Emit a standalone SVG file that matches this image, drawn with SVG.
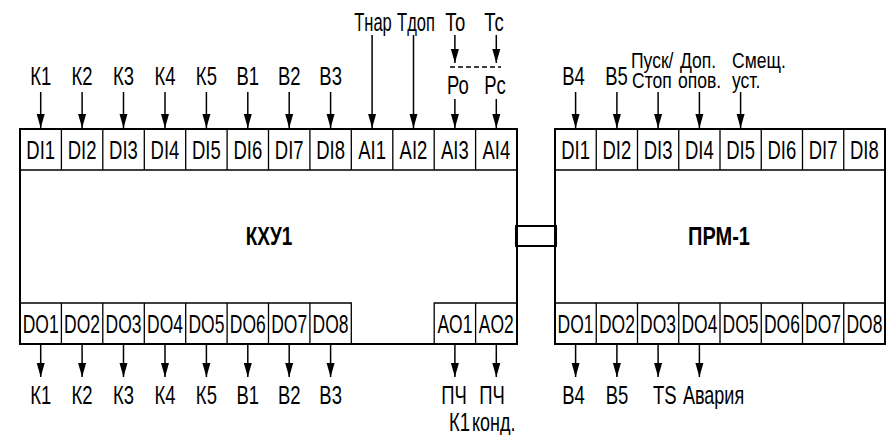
<svg xmlns="http://www.w3.org/2000/svg" width="892" height="435" viewBox="0 0 892 435">
<style>
text{font-family:"Liberation Sans",Arial,sans-serif;font-size:25px;fill:#000}
.m{text-anchor:middle}
.b{font-weight:bold}
.s{font-size:22.5px}
.box{fill:#fff;stroke:#000;stroke-width:2}
.cell{fill:none;stroke:#000;stroke-width:1.3}
.ar{stroke:#000;stroke-width:1.5;fill:none;marker-end:url(#ah)}
.dash{stroke:#000;stroke-width:1.5;stroke-dasharray:5 3}
.link{fill:none;stroke:#000;stroke-width:2}
</style>
<defs>
<marker id="ah" markerUnits="userSpaceOnUse" markerWidth="14" markerHeight="10" viewBox="0 0 14 10" refX="14" refY="5" orient="auto">
<path d="M0,1 L14,5 L0,9 Z" fill="#000"/>
</marker>
</defs>
<rect width="892" height="435" fill="#fff"/>

<g id="kxu1">
<rect class="box" x="20" y="129" width="497" height="215"/>
<path class="cell" d="M20,170H517 M61.4,129V170 M102.8,129V170 M144.3,129V170 M185.7,129V170 M227.1,129V170 M268.5,129V170 M309.9,129V170 M351.3,129V170 M392.8,129V170 M434.2,129V170 M475.6,129V170"/>
<path class="cell" d="M20,303H351.3V344 M61.4,303V344 M102.8,303V344 M144.3,303V344 M185.7,303V344 M227.1,303V344 M268.5,303V344 M309.9,303V344 M434.2,344V303H517 M475.6,303V344"/>
<text class="m" transform="translate(40.7,158.5) scale(0.74,1)">DI1</text>
<text class="m" transform="translate(82.1,158.5) scale(0.74,1)">DI2</text>
<text class="m" transform="translate(123.5,158.5) scale(0.74,1)">DI3</text>
<text class="m" transform="translate(165,158.5) scale(0.74,1)">DI4</text>
<text class="m" transform="translate(206.4,158.5) scale(0.74,1)">DI5</text>
<text class="m" transform="translate(247.8,158.5) scale(0.74,1)">DI6</text>
<text class="m" transform="translate(289.2,158.5) scale(0.74,1)">DI7</text>
<text class="m" transform="translate(330.6,158.5) scale(0.74,1)">DI8</text>
<text class="m" transform="translate(372.1,158.5) scale(0.74,1)">AI1</text>
<text class="m" transform="translate(413.5,158.5) scale(0.74,1)">AI2</text>
<text class="m" transform="translate(454.9,158.5) scale(0.74,1)">AI3</text>
<text class="m" transform="translate(496.3,158.5) scale(0.74,1)">AI4</text>
<text class="m" transform="translate(40.7,332.5) scale(0.7,1)">DO1</text>
<text class="m" transform="translate(82.1,332.5) scale(0.7,1)">DO2</text>
<text class="m" transform="translate(123.5,332.5) scale(0.7,1)">DO3</text>
<text class="m" transform="translate(165,332.5) scale(0.7,1)">DO4</text>
<text class="m" transform="translate(206.4,332.5) scale(0.7,1)">DO5</text>
<text class="m" transform="translate(247.8,332.5) scale(0.7,1)">DO6</text>
<text class="m" transform="translate(289.2,332.5) scale(0.7,1)">DO7</text>
<text class="m" transform="translate(330.6,332.5) scale(0.7,1)">DO8</text>
<text class="m" transform="translate(454.9,332.5) scale(0.7,1)">AO1</text>
<text class="m" transform="translate(496.3,332.5) scale(0.7,1)">AO2</text>
<text class="m b" transform="translate(269,245) scale(0.76,1)">КХУ1</text>
</g>

<g id="prm1">
<rect class="box" x="555" y="129" width="330" height="215"/>
<path class="cell" d="M555,170H885 M596.25,129V170 M637.5,129V170 M678.75,129V170 M720,129V170 M761.25,129V170 M802.5,129V170 M843.75,129V170"/>
<path class="cell" d="M555,303H885 M596.25,303V344 M637.5,303V344 M678.75,303V344 M720,303V344 M761.25,303V344 M802.5,303V344 M843.75,303V344"/>
<text class="m" transform="translate(575.6,158.5) scale(0.74,1)">DI1</text>
<text class="m" transform="translate(616.9,158.5) scale(0.74,1)">DI2</text>
<text class="m" transform="translate(658.1,158.5) scale(0.74,1)">DI3</text>
<text class="m" transform="translate(699.4,158.5) scale(0.74,1)">DI4</text>
<text class="m" transform="translate(740.6,158.5) scale(0.74,1)">DI5</text>
<text class="m" transform="translate(781.9,158.5) scale(0.74,1)">DI6</text>
<text class="m" transform="translate(823.1,158.5) scale(0.74,1)">DI7</text>
<text class="m" transform="translate(864.4,158.5) scale(0.74,1)">DI8</text>
<text class="m" transform="translate(575.6,332.5) scale(0.7,1)">DO1</text>
<text class="m" transform="translate(616.9,332.5) scale(0.7,1)">DO2</text>
<text class="m" transform="translate(658.1,332.5) scale(0.7,1)">DO3</text>
<text class="m" transform="translate(699.4,332.5) scale(0.7,1)">DO4</text>
<text class="m" transform="translate(740.6,332.5) scale(0.7,1)">DO5</text>
<text class="m" transform="translate(781.9,332.5) scale(0.7,1)">DO6</text>
<text class="m" transform="translate(823.1,332.5) scale(0.7,1)">DO7</text>
<text class="m" transform="translate(864.4,332.5) scale(0.7,1)">DO8</text>
<text class="m b" transform="translate(719,245) scale(0.8,1)">ПРМ-1</text>
</g>

<g id="labels">
<text class="m" transform="translate(40.7,85) scale(0.74,1)">К1</text>
<text class="m" transform="translate(82.1,85) scale(0.74,1)">К2</text>
<text class="m" transform="translate(123.5,85) scale(0.74,1)">К3</text>
<text class="m" transform="translate(165,85) scale(0.74,1)">К4</text>
<text class="m" transform="translate(206.4,85) scale(0.74,1)">К5</text>
<text class="m" transform="translate(247.8,85) scale(0.74,1)">В1</text>
<text class="m" transform="translate(289.2,85) scale(0.74,1)">В2</text>
<text class="m" transform="translate(330.6,85) scale(0.74,1)">В3</text>
<text class="m" transform="translate(373,31) scale(0.66,1)">Тнар</text>
<text class="m" transform="translate(416,31) scale(0.66,1)">Тдоп</text>
<text class="m" transform="translate(455.3,31) scale(0.74,1)">То</text>
<text class="m" transform="translate(494,31) scale(0.74,1)">Тс</text>
<text class="m" transform="translate(458,94) scale(0.74,1)">Ро</text>
<text class="m" transform="translate(495,94) scale(0.74,1)">Рс</text>
<text class="m" transform="translate(573.5,85) scale(0.74,1)">В4</text>
<text class="m" transform="translate(616.5,85) scale(0.74,1)">В5</text>
<text class="s" transform="translate(631,68) scale(0.78,1)">Пуск/</text>
<text class="s" transform="translate(632,87.5) scale(0.78,1)">Стоп</text>
<text class="s" transform="translate(680,68) scale(0.78,1)">Доп.</text>
<text class="s" transform="translate(678,87.5) scale(0.78,1)">опов.</text>
<text class="s" transform="translate(732,68) scale(0.78,1)">Смещ.</text>
<text class="s" transform="translate(732,87.5) scale(0.78,1)">уст.</text>
<text class="m" transform="translate(40.7,404) scale(0.74,1)">К1</text>
<text class="m" transform="translate(82.1,404) scale(0.74,1)">К2</text>
<text class="m" transform="translate(123.5,404) scale(0.74,1)">К3</text>
<text class="m" transform="translate(165,404) scale(0.74,1)">К4</text>
<text class="m" transform="translate(206.4,404) scale(0.74,1)">К5</text>
<text class="m" transform="translate(247.8,404) scale(0.74,1)">В1</text>
<text class="m" transform="translate(289.2,404) scale(0.74,1)">В2</text>
<text class="m" transform="translate(330.6,404) scale(0.74,1)">В3</text>
<text class="m" transform="translate(454,404) scale(0.74,1)">ПЧ</text>
<text class="m" transform="translate(492,404) scale(0.74,1)">ПЧ</text>
<text transform="translate(449,431) scale(0.74,1)">К1</text>
<text transform="translate(472,431) scale(0.72,1)">конд.</text>
<text class="m" transform="translate(573.5,404) scale(0.74,1)">В4</text>
<text class="m" transform="translate(617,404) scale(0.74,1)">В5</text>
<text transform="translate(653,404) scale(0.74,1)">TS</text>
<text transform="translate(683,404) scale(0.72,1)">Авария</text>
</g>

<g id="connectors">
<line class="ar" x1="40.7" y1="92" x2="40.7" y2="128"/>
<line class="ar" x1="82.1" y1="92" x2="82.1" y2="128"/>
<line class="ar" x1="123.5" y1="92" x2="123.5" y2="128"/>
<line class="ar" x1="165" y1="92" x2="165" y2="128"/>
<line class="ar" x1="206.4" y1="92" x2="206.4" y2="128"/>
<line class="ar" x1="247.8" y1="92" x2="247.8" y2="128"/>
<line class="ar" x1="289.2" y1="92" x2="289.2" y2="128"/>
<line class="ar" x1="330.6" y1="92" x2="330.6" y2="128"/>
<line class="ar" x1="372.1" y1="35" x2="372.1" y2="128"/>
<line class="ar" x1="413.5" y1="35" x2="413.5" y2="128"/>
<line class="ar" x1="454.9" y1="35" x2="454.9" y2="63"/>
<line class="ar" x1="496.3" y1="35" x2="496.3" y2="63"/>
<line class="dash" x1="450" y1="67" x2="501" y2="67"/>
<line class="ar" x1="454.9" y1="99" x2="454.9" y2="128"/>
<line class="ar" x1="496.3" y1="99" x2="496.3" y2="128"/>
<line class="ar" x1="575.6" y1="92" x2="575.6" y2="128"/>
<line class="ar" x1="616.9" y1="92" x2="616.9" y2="128"/>
<line class="ar" x1="658.1" y1="92" x2="658.1" y2="128"/>
<line class="ar" x1="699.4" y1="92" x2="699.4" y2="128"/>
<line class="ar" x1="740.6" y1="92" x2="740.6" y2="128"/>
<line class="ar" x1="40.7" y1="345" x2="40.7" y2="377"/>
<line class="ar" x1="82.1" y1="345" x2="82.1" y2="377"/>
<line class="ar" x1="123.5" y1="345" x2="123.5" y2="377"/>
<line class="ar" x1="165" y1="345" x2="165" y2="377"/>
<line class="ar" x1="206.4" y1="345" x2="206.4" y2="377"/>
<line class="ar" x1="247.8" y1="345" x2="247.8" y2="377"/>
<line class="ar" x1="289.2" y1="345" x2="289.2" y2="377"/>
<line class="ar" x1="330.6" y1="345" x2="330.6" y2="377"/>
<line class="ar" x1="454.9" y1="345" x2="454.9" y2="377"/>
<line class="ar" x1="496.3" y1="345" x2="496.3" y2="377"/>
<line class="ar" x1="575.6" y1="345" x2="575.6" y2="377"/>
<line class="ar" x1="616.9" y1="345" x2="616.9" y2="377"/>
<line class="ar" x1="658.1" y1="345" x2="658.1" y2="377"/>
<line class="ar" x1="699.4" y1="345" x2="699.4" y2="377"/>
<rect class="link" x="516" y="226" width="40" height="20"/>
</g>
</svg>
